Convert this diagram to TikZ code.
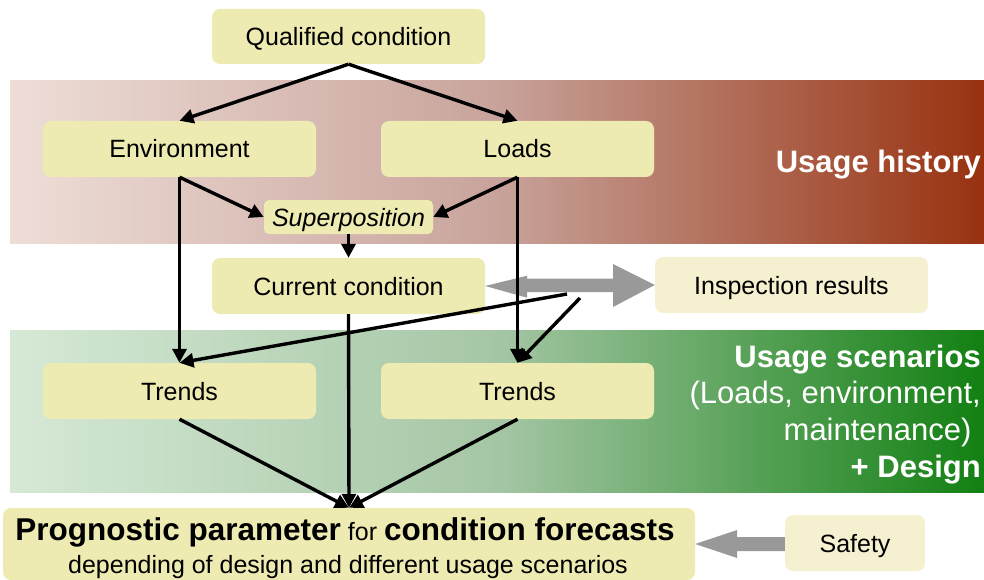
\documentclass[tikz,border=0pt]{standalone}
\usepackage{fontspec}
\setmainfont{Liberation Sans}
\usetikzlibrary{arrows.meta}

\definecolor{boxfill}{RGB}{237,235,178}
\definecolor{palefill}{RGB}{245,240,208}
\definecolor{arrowgrey}{RGB}{153,153,153}
\definecolor{brL}{RGB}{238,222,215}
\definecolor{brM}{RGB}{200,163,155}
\definecolor{brR}{RGB}{152,50,16}
\definecolor{grL}{RGB}{214,233,214}
\definecolor{grM}{RGB}{165,198,165}
\definecolor{grR}{RGB}{18,128,18}

\tikzset{
  card/.style={fill=boxfill, rounded corners=8pt, minimum width=273pt,
    minimum height=56pt, inner sep=0pt,
    font=\fontsize{25}{30}\selectfont, text height=18pt, text depth=0pt},
  palecard/.style={card, fill=palefill},
  flow/.style={draw=black, line width=3.4pt, -{Triangle[length=14pt,width=14pt]}},
  bandlabel/.style={text=white, anchor=base east, inner sep=0pt},
}

\begin{document}
\begin{tikzpicture}[x=1pt,y=-1pt]
\useasboundingbox (0,0) rectangle (984,580);

% shaded bands
\fill[left color=brL, right color=brR, middle color=brM] (10,81) rectangle (984,243);
\fill[left color=grL, right color=grR, middle color=grM] (10,330) rectangle (984,492);

% band captions
\node[bandlabel, font=\fontsize{31}{37}\selectfont\bfseries] (hist) at (981,173) {Usage history};
\node[bandlabel, font=\fontsize{31}{37}\selectfont\bfseries] (scenA) at (981,367) {Usage scenarios};
\node[bandlabel, font=\fontsize{31}{37}\selectfont] (scenB) at (981,403.5) {(Loads, environment,};
\node[bandlabel, font=\fontsize{31}{37}\selectfont] (scenC) at (981,440) {maintenance)\hspace*{0.3em}};
\node[bandlabel, font=\fontsize{31}{37}\selectfont\bfseries] (scenD) at (981,477) {+ Design};

% boxes
\node[card, minimum height=55pt] (qual) at (348.5,36.5) {Qualified condition};
\node[card] (env) at (179.5,149) {Environment};
\node[card] (loads) at (517.5,149) {Loads};
\node[card, minimum width=169pt, minimum height=34pt, rounded corners=5pt,
  font=\fontsize{25}{30}\selectfont\itshape] (sup) at (348.5,217) {Superposition};
\node[card] (cur) at (348.5,286) {Current condition};
\node[palecard] (insp) at (791.5,285) {Inspection results};
\node[card] (trL) at (179.5,391) {Trends};
\node[card] (trR) at (517.5,391) {Trends};
\node[card, minimum width=692pt, minimum height=72pt] (prog) at (349,544) {};
\node[anchor=base, inner sep=0pt, font=\fontsize{25}{30}\selectfont] (progA) at (345,540)
  {{\fontsize{31.5}{37}\selectfont\bfseries Prognostic parameter} for {\fontsize{31.5}{37}\selectfont\bfseries condition forecasts}};
\node[anchor=base, inner sep=0pt, font=\fontsize{25}{30}\selectfont] (progB) at (348,573)
  {depending of design and different usage scenarios};
\node[palecard, minimum width=140pt] (safe) at (855,543) {Safety};

% grey block arrows
\fill[arrowgrey] (cur.east) -- (527,275.7) -- (527,278.5) -- (613,278.5) -- (613,264)
  -- (insp.west) -- (613,307) -- (613,292) -- (527,292) -- (527,297.7) -- cycle;
\fill[arrowgrey] (prog.east) -- (737,530) -- (737,537) -- (safe.west |- 0,537)
  -- (safe.west |- 0,551) -- (737,551) -- (737,558) -- cycle;

% flow connectors
\draw[flow] (qual.south) -- (env.north);
\draw[flow] (qual.south) -- (loads.north);
\draw[flow] (env.south) -- (sup.west);
\draw[flow] (loads.south) -- (sup.east);
\draw[flow] (env.south) -- (trL.north);
\draw[flow] (loads.south) -- (trR.north);
\draw[flow] (sup.south) -- (cur.north);
\draw[flow] (cur.south) -- (prog.north);
\draw[flow] (trL.south) -- (prog.north);
\draw[flow] (trR.south) -- (prog.north);
\coordinate (inspA) at (567,294);
\coordinate (inspB) at (580,298);
\draw[flow] (inspA) -- (trL.north);
\draw[flow] (inspB) -- (trR.north);
\end{tikzpicture}
\end{document}
